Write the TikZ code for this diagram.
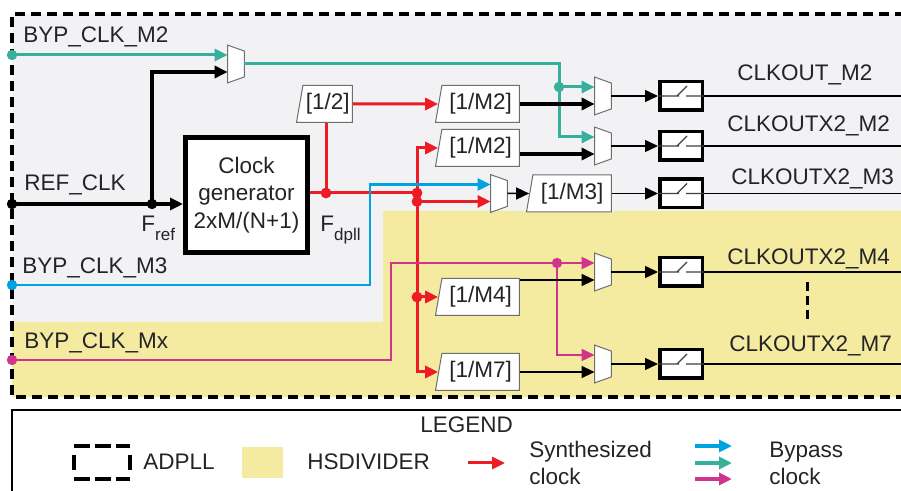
\documentclass[tikz,border=0pt]{standalone}
\usepackage{fontspec}
\setmainfont{Liberation Sans}
\usetikzlibrary{positioning}
\usetikzlibrary{calc}
\usetikzlibrary{arrows.meta}
\usetikzlibrary{shapes.geometric}
\definecolor{synthColor}{RGB}{237,28,36}
\definecolor{bypassColorA}{RGB}{0,163,226}
\definecolor{bypassColorB}{RGB}{54,176,154}
\definecolor{bypassColorC}{RGB}{208,52,140}
\definecolor{adpllColor}{RGB}{242,242,245}
\definecolor{hsdivColor}{RGB}{244,235,161}
\definecolor{textColor}{RGB}{35,35,40}
\definecolor{boxLineColor}{RGB}{110,110,110}

\begin{document}
\begin{tikzpicture}[x=0.5pt,y=-0.5pt,>={Triangle[length=6.5pt,width=6pt]},
    font=\fontsize{11.25pt}{13.75pt}\selectfont,text=textColor]

          \tikzstyle{normalEdge} = [line width=0.75pt];
          \tikzstyle{thickEdge} = [line width=1.6pt];
          \tikzstyle{synthEdge} = [line width=1.5pt, synthColor];
          \tikzstyle{bypassEdgeA} = [line width=1.1pt, bypassColorA];
          \tikzstyle{bypassEdgeB} = [line width=1.5pt, bypassColorB];
          \tikzstyle{bypassEdgeC} = [line width=1pt, bypassColorC];
          \tikzstyle{adpllEdge} = [line width=1.75pt, dash pattern=on 5pt off 3pt];
          \tikzstyle{legendDash} = [line width=1.75pt, dash pattern=on 8pt off 2.5pt];
          \tikzstyle{muxEdge} = [draw=boxLineColor, fill=white, line width=0.5pt];
          \tikzstyle{switchEdge} = [line width=0.6pt, black!75];

          \tikzstyle{labelNode} = [anchor=base west, inner sep=0pt];
          \tikzstyle{dividerNode} = [trapezium, trapezium left angle=73, trapezium right angle=90,
            trapezium stretches body, draw=boxLineColor, line width=0.5pt, fill=white,
            minimum width=42pt, minimum height=18.5pt, inner sep=0pt, anchor=east];
          \tikzstyle{muxNode} = [minimum width=8pt, minimum height=18.5pt, inner sep=0pt];
          \tikzstyle{switchNode} = [draw=black, line width=1.75pt, fill=white,
            minimum width=21.25pt, minimum height=14.25pt, inner sep=0pt];

          \useasboundingbox (0,0) rectangle (901,491);

          % ADPLL and HSDIVIDER areas
          \fill[adpllColor] (12,14) rectangle (901,397);
          \fill[hsdivColor] (383,211) -- (901,211) -- (901,397) -- (12,397) -- (12,322) -- (383,322) -- cycle;
          \draw[adpllEdge] (905,14) -- (12,14) -- (12,397) -- (905,397);

          \node[labelNode] (lbM2) at (23,43) {BYP\_CLK\_M2};
          \node[labelNode] (lbRef) at (24,191) {REF\_CLK};
          \node[labelNode] (lbM3) at (22,274) {BYP\_CLK\_M3};
          \node[labelNode] (lbMx) at (24,349) {BYP\_CLK\_Mx};
          \node[labelNode] (lbFref) at (141,232) {F\raisebox{-4.5pt}{\fontsize{8.5pt}{9pt}\selectfont ref}};
          \node[labelNode] (lbFdpll) at (320,232) {F\raisebox{-4.5pt}{\fontsize{8.5pt}{9pt}\selectfont dpll}};

          \node[draw=black, line width=2.5pt, fill=white, minimum width=61pt, minimum height=57.5pt,
            align=center, inner sep=0pt] (gen) at (246.5,195) {Clock\\generator\\2xM/(N+1)};

          \node[dividerNode, minimum width=28pt] (dvh) at (353,104) {[1/2]};
          \node[dividerNode] (dv1) at (520,104) {[1/M2]};
          \node[dividerNode] (dv2) at (520,148) {[1/M2]};
          \node[dividerNode, minimum width=42.5pt] (dv3) at (612,193.5) {[1/M3]};
          \node[dividerNode] (dv4) at (520,297) {[1/M4]};
          \node[dividerNode] (dv7) at (520,372) {[1/M7]};

          \node[muxNode] (mx1) at (236,64) {};
          \node[muxNode] (mx2) at (603,96) {};
          \node[muxNode] (mx3) at (603,146) {};
          \node[muxNode] (mxM3) at (499,193.5) {};
          \node[muxNode] (mx4) at (603,272) {};
          \node[muxNode] (mx7) at (603,364) {};

          \foreach \m in {mx1,mx2,mx3,mxM3,mx4,mx7} {
            \draw[muxEdge] (\m.north west) -- ($(\m.north east)+(0,6)$) -- ($(\m.south east)+(0,-6)$) -- (\m.south west) -- cycle;
            \coordinate (\m-a) at ($(\m.west)+(0,-9)$);
            \coordinate (\m-b) at ($(\m.west)+(0,8)$);
          }

          \node[switchNode] (sw1) at (681,96) {};
          \node[switchNode] (sw2) at (681,146) {};
          \node[switchNode] (sw3) at (681,193.5) {};
          \node[switchNode] (sw4) at (681,272) {};
          \node[switchNode] (sw7) at (681,364) {};
          \foreach \s in {sw1,sw2,sw3,sw4,sw7}
            \draw[switchEdge] (\s.west) -- ++(21,0) ++(-2,0) -- ++(10,-10) ++(-1,10) -- (\s.east);

          \node[labelNode] (oM2) at (737,81) {CLKOUT\_M2};
          \node[labelNode] (oX2M2) at (727,132) {CLKOUTX2\_M2};
          \node[labelNode] (oX2M3) at (731,185) {CLKOUTX2\_M3};
          \node[labelNode] (oX2M4) at (727,265) {CLKOUTX2\_M4};
          \node[labelNode] (oX2M7) at (729,352) {CLKOUTX2\_M7};
          \draw[line width=1.5pt, dash pattern=on 4.5pt off 2.5pt] (807,282) -- (807,322);

          % reference clock
          \coordinate (pRef) at (12,204);
          \coordinate (pFref) at (152,204);
          \draw[thickEdge, ->] (pRef) -- (pRef -| gen.west);
          \draw[thickEdge, ->] (pFref) |- (mx1-b);

          % bypass M2
          \coordinate (pB2) at (12,55);
          \coordinate (tk) at (559,100);
          \coordinate (tj) at (559,87);
          \draw[bypassEdgeB, ->] (pB2) -- (mx1-a);
          \draw[bypassEdgeB, ->] (mx1.east) -| (tk) |- (mx3-a);
          \draw[bypassEdgeB, ->] (tj) -- (mx2-a);

          % synthesized clock
          \coordinate (pFd) at (326,193);
          \coordinate (rj1) at (417,193);
          \coordinate (rj2) at (rj1 |- mxM3-b);
          \coordinate (rj4) at (rj1 |- dv4.west);
          \draw[synthEdge] (gen.east |- pFd) -- (rj1);
          \draw[synthEdge] (pFd) -- (pFd |- dvh.south);
          \draw[synthEdge, ->] (dvh.east) -- (dv1.west);
          \draw[synthEdge, ->] (rj1) |- (dv2.west);
          \draw[synthEdge, ->] (rj1) |- (dv7.west);
          \draw[synthEdge, ->] (rj2) -- (mxM3-b);
          \draw[synthEdge, ->] (rj4) -- (dv4.west);

          % bypass M3
          \coordinate (pB3) at (12,285);
          \coordinate (bk) at (370,184.5);
          \draw[bypassEdgeA, ->] (pB3) -| (bk) -- (mxM3-a);

          % bypass Mx
          \coordinate (pBx) at (12,360);
          \coordinate (mk) at (391,263);
          \coordinate (mj) at (557,263);
          \draw[bypassEdgeC, ->] (pBx) -| (mk) -- (mx4-a);
          \draw[bypassEdgeC, ->] (mj) |- (mx7-a);

          % dividers to muxes and switches
          \draw[thickEdge, ->] (dv1.east |- mx2-b) -- (mx2-b);
          \draw[thickEdge, ->] (dv2.east |- mx3-b) -- (mx3-b);
          \draw[normalEdge, ->] (dv4.east |- mx4-b) -- (mx4-b);
          \draw[normalEdge, ->] (dv7.east |- mx7-b) -- (mx7-b);
          \draw[normalEdge, ->] (mx2.east) -- (sw1.west);
          \draw[normalEdge, ->] (mx3.east) -- (sw2.west);
          \draw[normalEdge, ->] (mxM3.east) -- (dv3.west);
          \draw[normalEdge, ->] (dv3.east) -- (sw3.west);
          \draw[normalEdge, ->] (mx4.east) -- (sw4.west);
          \draw[normalEdge, ->] (mx7.east) -- (sw7.west);

          \coordinate (edgeR) at (901,0);
          \foreach \s in {sw1,sw2,sw3,sw4,sw7}
            \draw[normalEdge] (\s.east) -- (\s.east -| edgeR);

          % junction dots
          \fill (pRef) circle (2.6pt);
          \fill (pFref) circle (2.6pt);
          \fill[bypassColorB] (pB2) circle (2.6pt);
          \fill[bypassColorB] (tj) circle (2.6pt);
          \fill[synthColor] (pFd) circle (2.7pt);
          \fill[synthColor] (rj1) circle (2.7pt);
          \fill[synthColor] (rj2) circle (2.7pt);
          \fill[synthColor] (rj4) circle (2.7pt);
          \fill[bypassColorA] (pB3) circle (2.6pt);
          \fill[bypassColorC] (pBx) circle (2.6pt);
          \fill[bypassColorC] (mj) circle (2.6pt);

          % legend
          \draw[line width=1pt] (905,410) -- (12,410) -- (12,495);
          \node[labelNode] (lgTitle) at (420,433) {LEGEND};
          \draw[legendDash] (74,446) -- (130,446);
          \draw[legendDash] (74,479) -- (130,479);
          \draw[line width=1.75pt] (74,455) -- (74,470);
          \draw[line width=1.75pt] (130,455) -- (130,470);
          \node[labelNode] (lgAdpll) at (143,470) {ADPLL};
          \fill[hsdivColor] (242,447) rectangle (283,478);
          \node[labelNode] (lgHsdiv) at (307,470) {HSDIVIDER};
          \coordinate (lgSynth) at (468,463);
          \draw[synthEdge, ->] (lgSynth) -- ++(37,0);
          \node[labelNode] (lgSyn1) at (529,458) {Synthesized};
          \node[labelNode] (lgSyn2) at (529,485) {clock};
          \coordinate (lgByp) at (695,446);
          \draw[line width=1.6pt, bypassColorA, ->] (lgByp) -- ++(37,0);
          \draw[line width=1.6pt, bypassColorB, ->] ($(lgByp)+(0,17)$) -- ++(37,0);
          \draw[line width=1.6pt, bypassColorC, ->] ($(lgByp)+(0,33)$) -- ++(37,0);
          \node[labelNode] (lgByp1) at (769,458) {Bypass};
          \node[labelNode] (lgByp2) at (769,485) {clock};
        \end{tikzpicture}
\end{document}
